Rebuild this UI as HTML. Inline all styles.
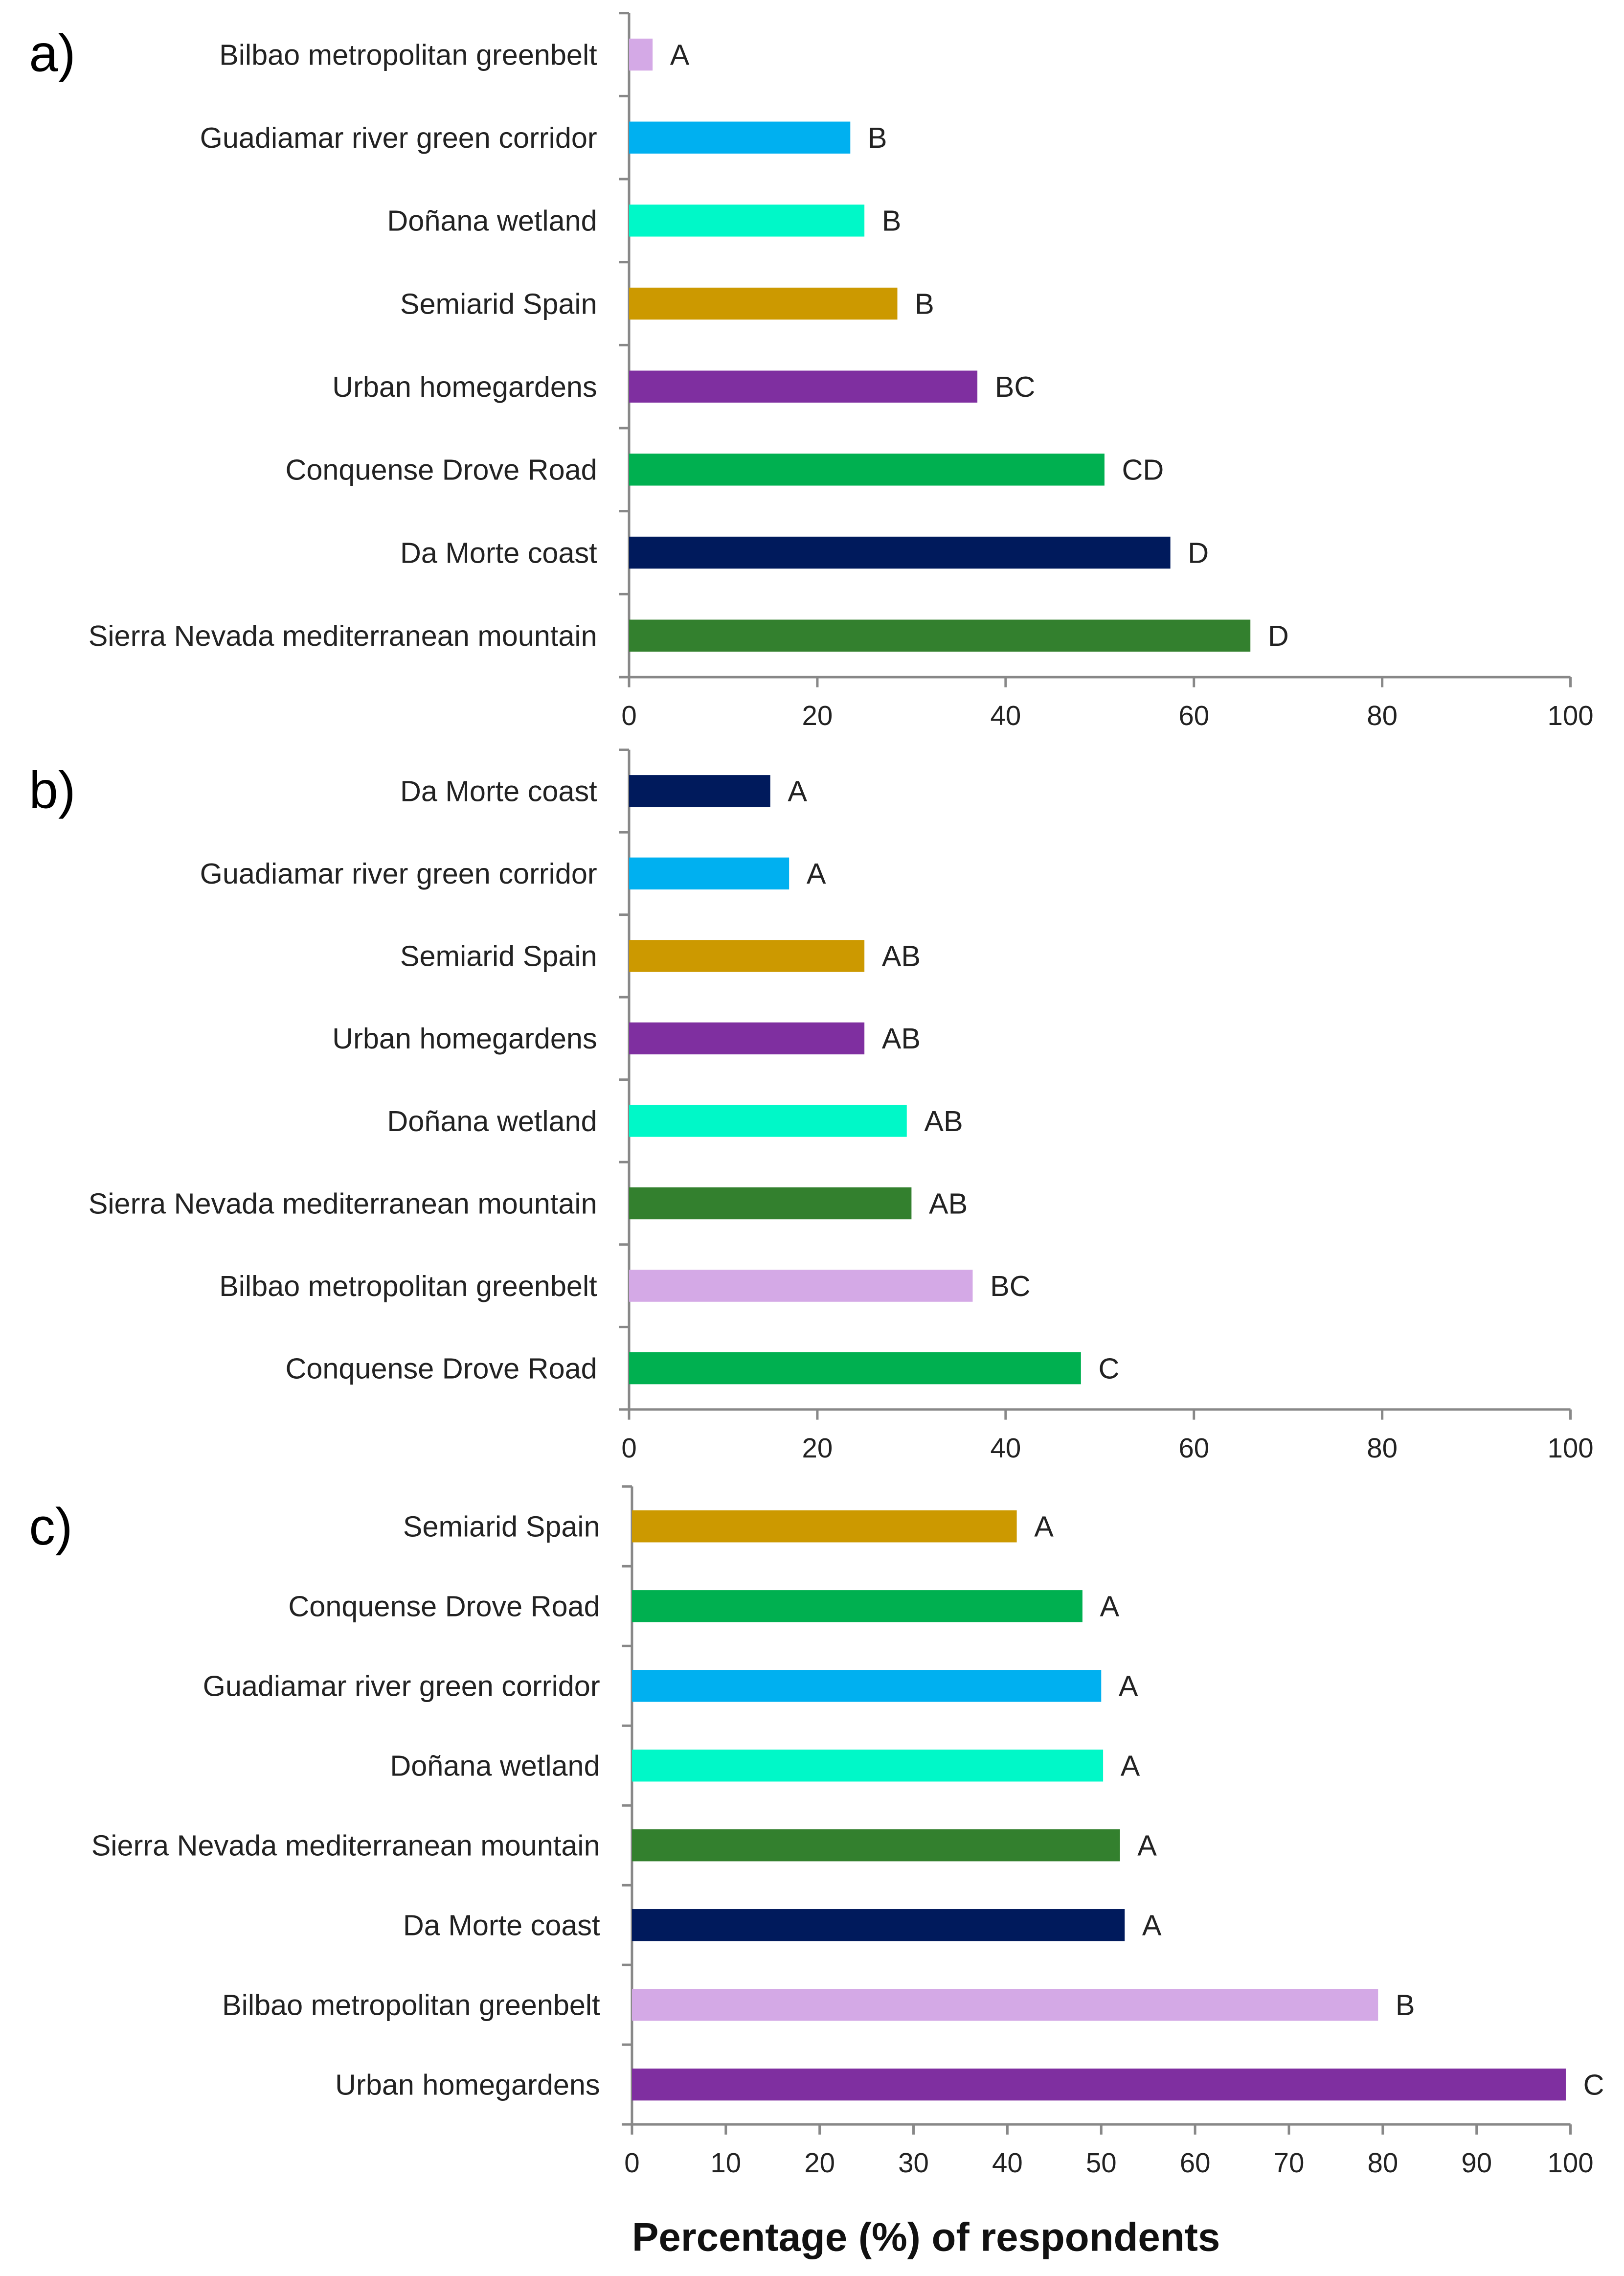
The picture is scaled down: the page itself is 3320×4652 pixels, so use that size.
<!DOCTYPE html>
<html><head><meta charset="utf-8"><style>
html,body{margin:0;padding:0;background:#fff;}
svg{display:block;}
text{font-family:"Liberation Sans",sans-serif;}
</style></head><body>
<svg id="chart" width="3320" height="4652" viewBox="0 0 3320 4652" xmlns="http://www.w3.org/2000/svg"></svg>
<script>
const catsA = ["Bilbao metropolitan greenbelt","Guadiamar river green corridor","Doñana wetland","Semiarid Spain","Urban homegardens","Conquense Drove Road","Da Morte  coast","Sierra Nevada mediterranean mountain"];
const valsA = [2.5,23.5,25,28.5,37,50.5,57.5,66];
const letA = ["A","B","B","B","BC","CD","D","D"];
const catsB = ["Da Morte  coast","Guadiamar river green corridor","Semiarid Spain","Urban homegardens","Doñana wetland","Sierra Nevada mediterranean mountain","Bilbao metropolitan greenbelt","Conquense Drove Road"];
const valsB = [15,17,25,25,29.5,30,36.5,48];
const letB = ["A","A","AB","AB","AB","AB","BC","C"];
const catsC = ["Semiarid Spain","Conquense Drove Road","Guadiamar river green corridor","Doñana wetland","Sierra Nevada mediterranean mountain","Da Morte  coast","Bilbao metropolitan greenbelt","Urban homegardens"];
const valsC = [41,48,50,50.2,52,52.5,79.5,99.5];
const letC = ["A","A","A","A","A","A","B","C"];
const ticksAB = [0,20,40,60,80,100];
const ticksC = [0,10,20,30,40,50,60,70,80,90,100];
const colorMap = {"Bilbao":"#d4a9e6","Guadiamar":"#00b0f0","Doñana":"#00f8c8","Semiarid":"#cc9900","Urban":"#7f2fa0","Conquense":"#00b050","Da":"#001a5c","Sierra":"#33802e"};

const S = 2.97;
const svg = document.getElementById('chart');
const NS = "http://www.w3.org/2000/svg";
function mk(tag, attrs, parent){const e=document.createElementNS(NS,tag);for(const k in attrs)e.setAttribute(k,attrs[k]);(parent||svg).appendChild(e);return e;}

function panel(id, label, cats, vals, lets, ticks, x0, x1, top, bottom){
  const g = mk('g',{});
  
  
  const X = v => (x0 + (x1-x0)*v/100)*S;
  const band = (bottom-top)/cats.length;
  const Y = i => (top + band*(i+0.5))*S;
  const pl = mk('text',{x:20*S,y:(top+40)*S,'font-size':36*S},g);
  pl.textContent = label;
  
  
  const ya = mk('line',{x1:x0*S,x2:x0*S,y1:top*S,y2:bottom*S,stroke:'#888','stroke-width':5},g);
  
  
  const xa = mk('line',{x1:x0*S,x2:x1*S,y1:bottom*S,y2:bottom*S,stroke:'#888','stroke-width':5},g);
  
  
  for(let i=0;i<=cats.length;i++){
    const yy=(top+band*i)*S;
    mk('line',{x1:(x0-7)*S,x2:x0*S,y1:yy,y2:yy,stroke:'#888','stroke-width':5},g);
  }
  ticks.forEach(t=>{
    mk('line',{x1:X(t),x2:X(t),y1:bottom*S,y2:(bottom+7)*S,stroke:'#888','stroke-width':5},g);
    const tl=mk('text',{x:X(t),y:(bottom+33)*S,'font-size':19*S,'text-anchor':'middle',fill:'#222'},g);
    tl.textContent=t;
    
    
  });
  cats.forEach((c,i)=>{
    const col = colorMap[c.split(' ')[0]];
    const bh = 22*S;
    const r = mk('rect',{x:X(0),y:Y(i)-bh/2,width:X(vals[i])-X(0),height:bh,fill:col},g);
    
    
    const t = mk('text',{x:(x0-22)*S,y:Y(i)+7*S,'font-size':20*S,'text-anchor':'end',fill:'#222'},g);
    t.textContent = c;
    
    
    const l = mk('text',{x:X(vals[i])+12*S,y:Y(i)+7*S,'font-size':20*S,fill:'#222'},g);
    l.textContent = lets[i];
    
    
  });
}
panel('a','a)',catsA,valsA,letA,ticksAB,433,1081,9,466);
panel('b','b)',catsB,valsB,letB,ticksAB,433,1081,516,970);
panel('c','c)',catsC,valsC,letC,ticksC,435,1081,1023,1462);
const title = mk('text',{x:435*S,y:1549*S,'font-size':27.5*S,'font-weight':'bold',fill:'#111'});
title.textContent = 'Percentage (%) of respondents';


</script>
</body></html>
